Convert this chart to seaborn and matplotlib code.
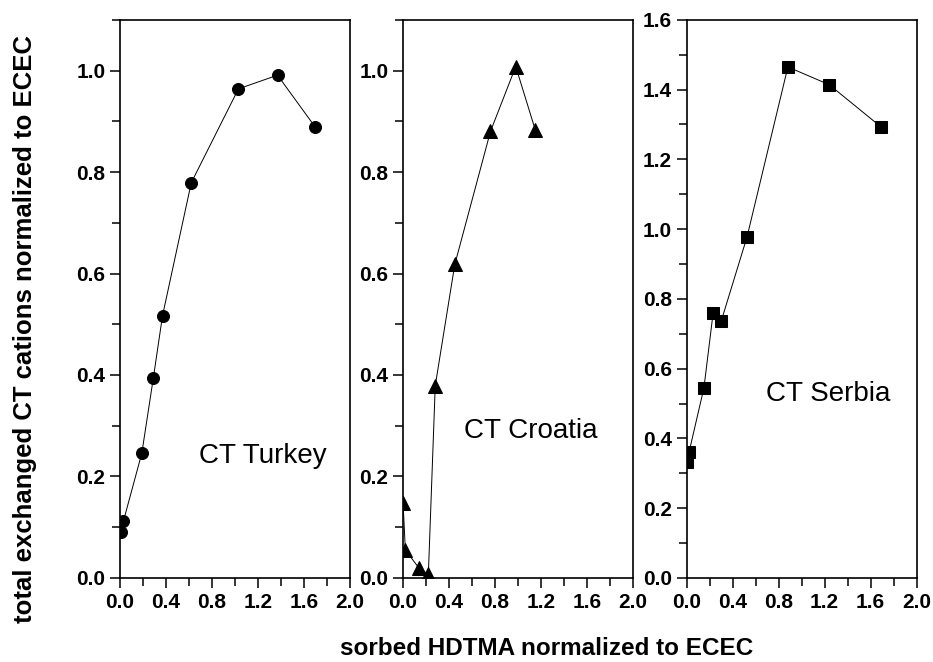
import numpy as np
import pandas as pd
import matplotlib
matplotlib.use('Agg')
import matplotlib.pyplot as plt
import seaborn as sns
from matplotlib.ticker import MultipleLocator

# data
turkey_x = [0.01, 0.03, 0.19, 0.29, 0.37, 0.62, 1.03, 1.37, 1.70]
turkey_y = [0.090, 0.112, 0.246, 0.394, 0.517, 0.779, 0.964, 0.991, 0.888]

croatia_x = [0.00, 0.02, 0.14, 0.22, 0.28, 0.45, 0.76, 0.98, 1.15]
croatia_y = [0.148, 0.055, 0.019, 0.007, 0.379, 0.618, 0.880, 1.008, 0.883]

serbia_x = [0.005, 0.02, 0.15, 0.23, 0.30, 0.525, 0.88, 1.24, 1.69]
serbia_y = [0.333, 0.360, 0.545, 0.760, 0.736, 0.978, 1.465, 1.414, 1.293]

labels = ['CT Turkey', 'CT Croatia', 'CT Serbia']
x_ticks = [0.0, 0.4, 0.8, 1.2, 1.6, 2.0]

sns.set_style('ticks')
plt.rcParams['font.family'] = ['Liberation Sans', 'DejaVu Sans']
plt.rcParams['axes.linewidth'] = 1.2
plt.rcParams['text.color'] = 'black'
plt.rcParams['xtick.color'] = 'black'
plt.rcParams['ytick.color'] = 'black'
plt.rcParams['axes.edgecolor'] = 'black'

fig = plt.figure(figsize=(9.33, 6.62), dpi=100)

panels = [
    (turkey_x, turkey_y, 'o', 8.6, 1.1, (1.24, 0.24)),
    (croatia_x, croatia_y, '^', 10.5, 1.1, (1.11, 0.29)),
    (serbia_x, serbia_y, 's', 8.3, 1.6, (1.23, 0.527)),
]
lefts = [0.1286, 0.432, 0.736]

for i, (xs, ys, mk, ms, ymax, tpos) in enumerate(panels):
    ax = fig.add_axes([lefts[i], 0.127, 0.2465, 0.843])
    df = pd.DataFrame({'x': xs, 'y': ys})
    sns.lineplot(data=df, x='x', y='y', ax=ax, estimator=None, sort=False,
                 color='black', linewidth=0.7, marker=mk, markersize=ms,
                 markeredgecolor='black', markerfacecolor='black')
    ax.set_xlim(0, 2.0)
    ax.set_xticks(x_ticks)
    ax.xaxis.set_minor_locator(MultipleLocator(0.2))
    ax.yaxis.set_major_locator(MultipleLocator(0.2))
    ax.yaxis.set_minor_locator(MultipleLocator(0.1))
    ax.set_ylim(0, ymax)
    ax.set_xticklabels([f'{t:.1f}' for t in x_ticks])
    yt = [t for t in ax.get_yticks() if t <= ymax + 1e-9]
    ax.set_yticks(yt)
    ax.set_yticklabels([f'{t:.1f}' for t in yt])
    ax.set_ylim(0, ymax)
    ax.tick_params(which='both', direction='out', width=1.1, top=False, right=False,
                   colors='black')
    ax.tick_params(which='major', length=7, labelsize=15)
    ax.tick_params(which='minor', length=5.5)
    for lab in ax.get_xticklabels() + ax.get_yticklabels():
        lab.set_fontweight('bold')
    for sp in ax.spines.values():
        sp.set_visible(True)
        sp.set_color('black')
    ax.set_xlabel('')
    ax.set_ylabel('')
    ax.text(tpos[0], tpos[1], labels[i], ha='center', va='center', fontsize=20,
            color='black')

fig.text(0.027, 0.503, 'total exchanged CT cations normalized to ECEC',
         rotation=90, ha='center', va='center', fontsize=18.5, fontweight='bold',
         color='black')
fig.text(0.586, 0.021, 'sorbed HDTMA normalized to ECEC',
         ha='center', va='center', fontsize=17.5, fontweight='bold', color='black')

fig.savefig('out.png', dpi=100)
